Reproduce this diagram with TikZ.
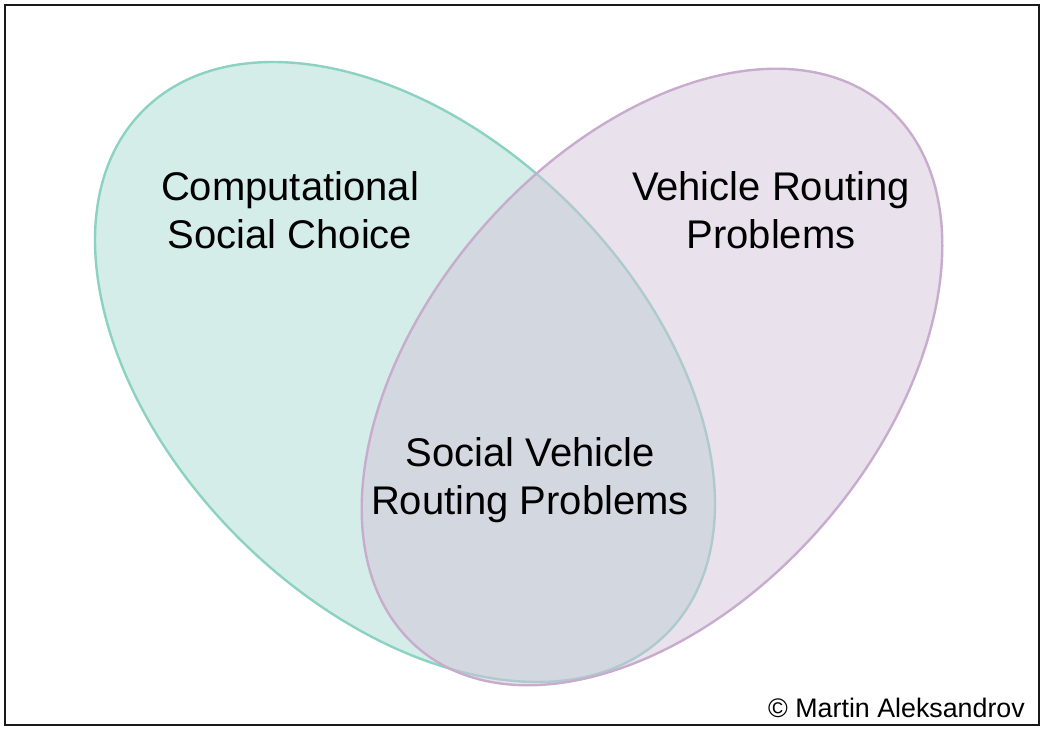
\documentclass[tikz,border=0pt]{standalone}
\usepackage{fontspec}
\setmainfont{Liberation Sans}
\definecolor{tealfill}{RGB}{171,219,209}
\definecolor{tealline}{RGB}{140,210,195}
\definecolor{purpfill}{RGB}{211,195,217}
\definecolor{purpline}{RGB}{200,172,206}
\begin{document}
\begin{tikzpicture}[x=1pt,y=1pt,
  setshape/.style={line width=2.4pt, fill opacity=0.5},
  setlabel/.style={align=center, font=\fontsize{40}{48}\selectfont, text=black},
  credit/.style={font=\fontsize{26.8}{30}\selectfont, anchor=east, inner sep=0pt}]
\useasboundingbox (0,0) rectangle (1044,730);
\draw[line width=2.6pt, black!90] (5,5) rectangle (1039,725);
\draw[setshape, draw=tealline, fill=tealfill, rotate around={-45:(405,358)}]
  (405,358) ellipse [x radius=370, y radius=235];
\draw[setshape, draw=purpline, fill=purpfill, rotate around={49:(652,353)}]
  (652,353) ellipse [x radius=358, y radius=226];
\node[setlabel] (csc) at (290,520) {Computational\\Social Choice};
\node[setlabel] (vrp) at (771,520) {Vehicle Routing\\Problems};
\node[setlabel] (svrp) at (530,250) {Social Vehicle\\Routing Problems};
\node[credit] (copy) at (1025,22) {© Martin Aleksandrov};
\end{tikzpicture}
\end{document}
